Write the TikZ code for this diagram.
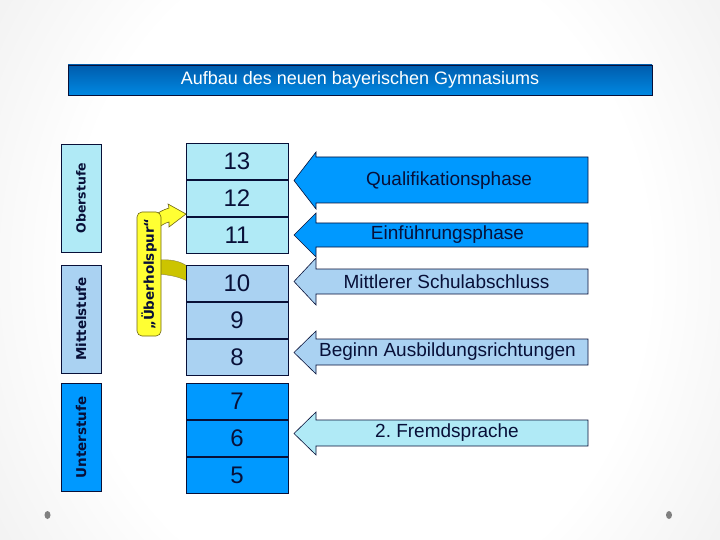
\documentclass[tikz,border=0pt]{standalone}
\usepackage{fontspec}
\setmainfont{Liberation Sans}
\newfontfamily\stagefont{DejaVu Sans}
\usetikzlibrary{positioning}
\definecolor{slidecyan}{RGB}{176,234,246}
\definecolor{slidelight}{RGB}{170,210,242}
\definecolor{slideblue}{RGB}{0,153,255}
\definecolor{titletop}{RGB}{0,92,172}
\definecolor{titlebot}{RGB}{0,136,226}
\definecolor{ink}{RGB}{8,16,56}
\definecolor{lane}{RGB}{255,255,51}
\definecolor{laneshade}{RGB}{204,196,0}
\definecolor{laneedge}{RGB}{110,100,20}
\definecolor{dotgrey}{RGB}{128,128,128}
\pgfdeclareradialshading{slidebg}{\pgfpoint{0bp}{0bp}}{color(0bp)=(white); color(20bp)=(white); color(50bp)=(black!15); color(75bp)=(black!22)}

\begin{document}
\begin{tikzpicture}[x=1pt, y=-1pt,
  titlebar/.style={rectangle, draw=ink, line width=0.8pt, top color=titletop, bottom color=titlebot,
    minimum width=584pt, minimum height=30pt, text=white, font=\fontsize{18}{20}\selectfont},
  stage/.style={rectangle, draw=ink, line width=0.8pt, rotate=90, minimum width=108pt,
    minimum height=40pt, inner sep=0pt, text=ink, font=\stagefont\bfseries\fontsize{13.5}{15}\selectfont},
  grade/.style={rectangle, draw=ink, line width=0.8pt, minimum width=102pt, minimum height=36.3pt,
    inner sep=0pt, text=ink, font=\fontsize{24}{26}\selectfont},
  phase/.style={draw=ink, line width=0.6pt, line join=miter},
  phaselbl/.style={inner sep=0pt, text=ink, font=\fontsize{19}{21}\selectfont},
  lanebox/.style={rectangle, rounded corners=5pt, draw=laneedge, line width=0.6pt, fill=lane,
    rotate=90, minimum width=124pt, minimum height=24pt, inner sep=0pt, text=ink,
    font=\stagefont\bfseries\fontsize{13.5}{15}\selectfont},
  lanearrow/.style={draw=laneedge, line width=0.6pt, fill=lane},
  laneband/.style={draw=laneedge!80, line width=0.4pt, fill=laneshade}
]
\useasboundingbox (0,0) rectangle (720,540);
\begin{scope}
  \clip (0,0) rectangle (720,540);
  \shade[shading=slidebg] (0,-150) rectangle (720,690);
\end{scope}
\fill[dotgrey] (47.5,515) ellipse (3 and 4);
\fill[dotgrey] (669,515) ellipse (3 and 4);

\node[titlebar] (title) at (360,80) {Aufbau des neuen bayerischen Gymnasiums};

% Stufen
\node[stage, fill=slidecyan, font=\stagefont\bfseries\fontsize{12.5}{14}\selectfont] (ober) at (81,198) {Oberstufe};
\node[stage, fill=slidelight] (mittel) at (81,319) {Mittelstufe};
\node[stage, fill=slideblue] (unter) at (81,437.5) {Unterstufe};

% Ueberholspur (band behind)
\draw[laneband] (158,260) .. controls (170,259) and (180,261) .. (187,266) -- (187,281)
  .. controls (180,277) and (170,275) .. (158,274) -- cycle;

% Jahrgangsstufen
\node[grade, fill=slidecyan] (g13) at (237,161.2) {13};
\node[grade, fill=slidecyan, below=0pt of g13] (g12) {12};
\node[grade, fill=slidecyan, below=0pt of g12] (g11) {11};
\node[grade, fill=slidelight] (g10) at (237,283.2) {10};
\node[grade, fill=slidelight, below=0pt of g10] (g9) {9};
\node[grade, fill=slidelight, below=0pt of g9] (g8) {8};
\node[grade, fill=slideblue] (g7) at (237,401.2) {7};
\node[grade, fill=slideblue, below=0pt of g7] (g6) {6};
\node[grade, fill=slideblue, below=0pt of g6] (g5) {5};

\draw[lanearrow] (158,213) .. controls (163,210) and (166,209) .. (169,208) -- (168,204) -- (186,214)
  -- (169,227) -- (169,222) .. controls (165,223) and (162,225) .. (158,228) -- cycle;
\node[lanebox] (lane) at (149,274) {„Überholspur“};

% Phasen
\draw[phase, fill=slideblue] (588,157) -- (316,157) -- (316,152) -- (294,180.5) -- (316,209)
  -- (316,203) -- (588,203) -- cycle;
\node[phaselbl] (quali) at (449,181) {Qualifikationsphase};
\draw[phase, fill=slideblue] (588,223) -- (316,223) -- (316,213) -- (294,235) -- (316,257)
  -- (316,247) -- (588,247) -- cycle;
\node[phaselbl] (einf) at (447.5,235) {Einführungsphase};
\draw[phase, fill=slidelight] (588,269) -- (316,269) -- (316,258) -- (294,281.5) -- (316,305)
  -- (316,294) -- (588,294) -- cycle;
\node[phaselbl] (msa) at (446.5,282) {Mittlerer Schulabschluss};
\draw[phase, fill=slidelight] (588,339) -- (316,339) -- (316,331) -- (294,352.5) -- (316,374)
  -- (316,365) -- (588,365) -- cycle;
\node[phaselbl] (ausb) at (447.5,352) {Beginn Ausbildungsrichtungen};
\draw[phase, fill=slidecyan] (588,420) -- (316,420) -- (316,412) -- (294,433.5) -- (316,455)
  -- (316,446) -- (588,446) -- cycle;
\node[phaselbl] (fremd) at (447,433) {2.\ Fremdsprache};
\end{tikzpicture}
\end{document}
